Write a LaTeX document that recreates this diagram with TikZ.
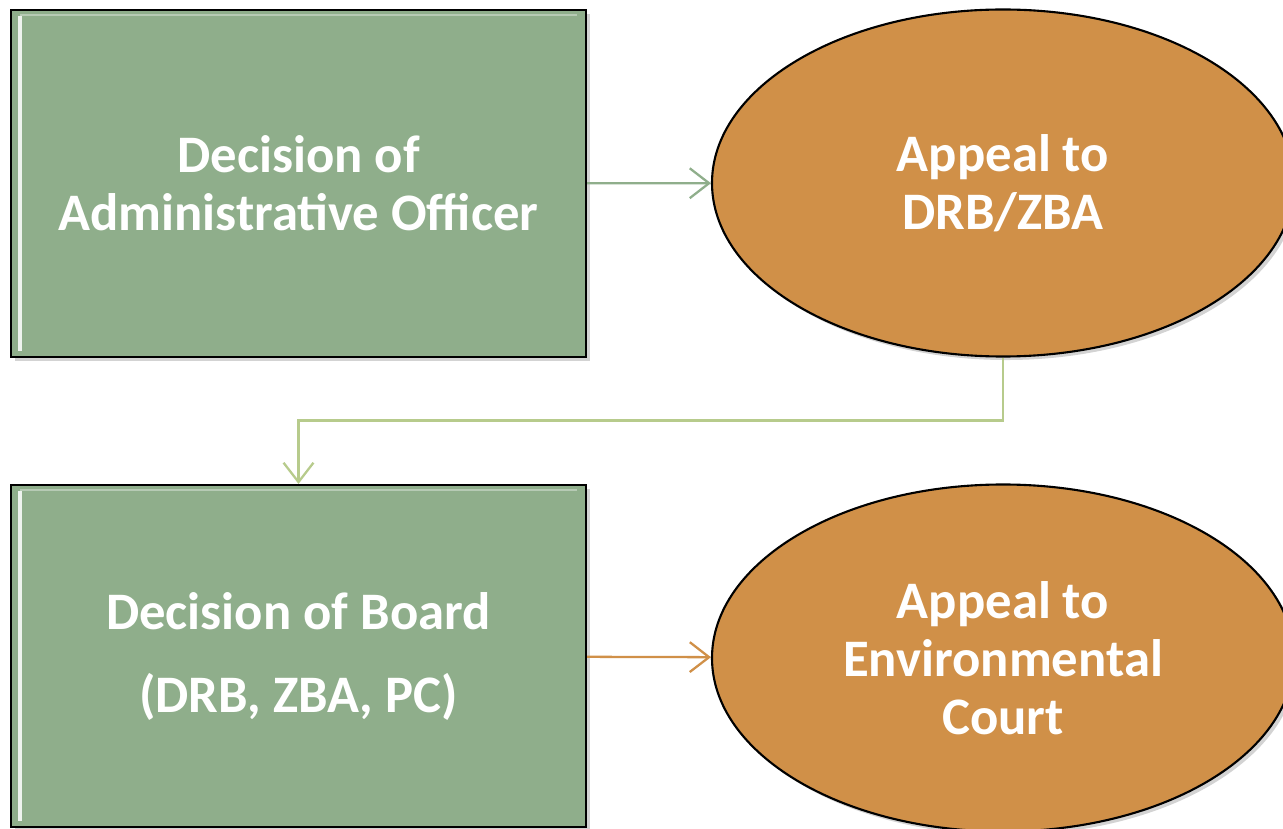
\documentclass[tikz,border=0pt]{standalone}
\usepackage{fontspec}
\setmainfont{Carlito}
\usepackage{tikz}
\usetikzlibrary{shapes.geometric}
\usetikzlibrary{arrows.meta}
\usetikzlibrary{shadows}
\definecolor{boxgreen}{HTML}{8FAE8B}
\definecolor{ovalorange}{HTML}{D09048}
\definecolor{linkgreen}{HTML}{B7CB8C}
\tikzset{decbox/.style={draw=black,line width=1.2pt,fill=boxgreen,minimum width=11.5cm,
  text=white,font=\fontsize{30}{33}\selectfont\bfseries,align=center,
  drop shadow={opacity=0.35,shadow xshift=2pt,shadow yshift=-2pt}},
  appoval/.style={ellipse,draw=black,line width=1.2pt,fill=ovalorange,minimum width=11.64cm,
  minimum height=6.94cm,text=white,font=\fontsize{30}{33}\selectfont\bfseries,align=center,
  drop shadow={opacity=0.35,shadow xshift=2pt,shadow yshift=-2pt}},
  flow/.style={line width=1.3pt,-{Straight Barb[length=11pt,width=17pt]}}}
\begin{document}
\begin{tikzpicture}
\useasboundingbox (0,0) rectangle (25.66,16.56);
\node[decbox,minimum height=6.94cm] (officer) at (5.97,12.89) {Decision of\\Administrative Officer};
\node[appoval] (drbzba) at (20.06,12.9) {Appeal to\\DRB/ZBA};
\node[decbox,minimum height=6.84cm] (board) at (5.97,3.44) {Decision of Board\\[0.5cm](DRB, ZBA, PC)};
\node[appoval] (court) at (20.06,3.4) {Appeal to\\Environmental\\Court};
% inner bevel highlights
\foreach \b in {officer,board}{
\draw[white!85!boxgreen,line width=2pt] ([shift={(0.2,-0.15)}]\b.north west) -- ([shift={(0.2,0.15)}]\b.south west);
\draw[white!35!boxgreen,line width=1.5pt] ([shift={(0.2,-0.12)}]\b.north west) -- ([shift={(-0.2,-0.12)}]\b.north east);
}
\draw[flow,boxgreen] (officer) -- (drbzba);
\draw[flow,ovalorange] (board) -- (court);
\draw[flow,linkgreen] (drbzba.south) -- ++(0,-1.26) -| (board.north);
\end{tikzpicture}
\end{document}
